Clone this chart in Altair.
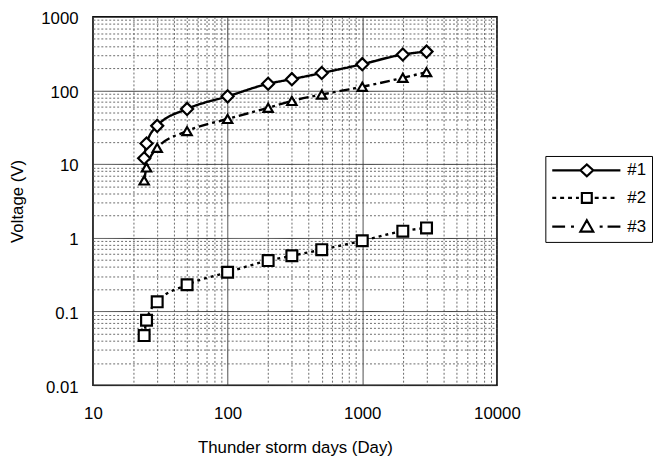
import altair as alt
import pandas as pd

# ---- data ----
days = [24, 25, 30, 50, 100, 200, 300, 500, 1000, 2000, 3000]
series_names = ["#1", "#2", "#3"]
v1 = [12, 19, 33, 56, 83, 123, 142, 172, 227, 307, 336]
v2 = [0.047, 0.076, 0.135, 0.23, 0.34, 0.49, 0.57, 0.69, 0.91, 1.23, 1.36]
v3 = [6.0, 9.0, 16.6, 28, 41, 58, 72, 88, 112, 148, 177]

# gridline positions (1..9 x each decade)
mult = [1, 2, 3, 4, 5, 6, 7, 8, 9]
x_decades = [10, 100, 1000]
y_decades = [0.01, 0.1, 1, 10, 100]
x_grid = [round(m * d, 6) for d in x_decades for m in mult] + [10000]
y_grid = [round(m * d, 6) for d in y_decades for m in mult] + [1000]

rows = []
for name, vals in zip(series_names, [v1, v2, v3]):
    for d, v in zip(days, vals):
        rows.append({"days": d, "voltage": v, "series": name})
df = pd.DataFrame(rows)

FONT = "Liberation Sans"
major = "abs(log(datum.value)/LN10 - round(log(datum.value)/LN10)) < 0.001"


def make_axis(title, values, **kw):
    return alt.Axis(
        title=title,
        values=values,
        grid=True,
        ticks=False,
        domain=False,
        gridColor={"condition": {"test": major, "value": "#3a3a3a"}, "value": "#6a6a6a"},
        gridDash={"condition": {"test": major, "value": [1, 0]}, "value": [2, 2]},
        gridWidth=1,
        labelExpr=f"({major}) ? format(datum.value, '~g') : ''",
        labelOverlap=False,
        labelFlush=False,
        labelFont=FONT,
        labelFontSize=17,
        labelColor="black",
        titleFont=FONT,
        titleFontSize=17,
        titleFontWeight="normal",
        titleColor="black",
        **kw,
    )


x_enc = alt.X(
    "days:Q",
    scale=alt.Scale(type="log", domain=[10, 10000], nice=False),
    axis=make_axis("Thunder storm days (Day)", x_grid, labelPadding=21, titlePadding=18),
)
y_enc = alt.Y(
    "voltage:Q",
    scale=alt.Scale(type="log", domain=[0.01, 1000], nice=False),
    axis=make_axis("Voltage (V)", y_grid, labelPadding=15, titlePadding=14, labelOffset=2),
)

base = alt.Chart(df)

lines = base.mark_line(color="black", strokeWidth=2.4, interpolate="monotone").encode(
    x=x_enc,
    y=y_enc,
    strokeDash=alt.StrokeDash(
        "series:N",
        scale=alt.Scale(domain=series_names, range=[[1, 0], [3, 4], [10, 4, 3, 4]]),
        legend=None,
    ),
)

points = base.mark_point(
    filled=True, fill="white", stroke="black", strokeWidth=2.2, opacity=1
).encode(
    x=x_enc,
    y=y_enc,
    shape=alt.Shape(
        "series:N",
        scale=alt.Scale(domain=series_names, range=["diamond", "square", "triangle-up"]),
        legend=None,
    ),
    size=alt.Size(
        "series:N",
        scale=alt.Scale(domain=series_names, range=[150, 90, 140]),
        legend=None,
    ),
)

# legend symbols: line sample + marker, as custom symbol paths
legend_paths = [
    "M-5 0L-0.929 0M-0.929 0L0 -0.857L0.929 0L0 0.857ZM0.929 0L4.857 0",
    "M-5 0L-4.429 0M-3.857 0L-3.286 0M-2.714 0L-2.143 0M-1.571 0L-1.143 0"
    "M-0.714 -0.714L0.714 -0.714L0.714 0.714L-0.714 0.714Z"
    "M1.143 0L1.714 0M2.286 0L2.857 0M3.429 0L4 0",
    "M-5 0L-3.143 0M-2.286 0L-1.857 0"
    "M0 -0.929L0.929 0.714L-0.929 0.714Z"
    "M1.857 0L2.286 0M3 0L4.857 0",
]

legend_layer = base.transform_filter("datum.days < 0").mark_point(
    filled=False, color="black", strokeWidth=2, opacity=1
).encode(
    x=x_enc,
    y=y_enc,
    shape=alt.Shape(
        "series:N",
        title=None,
        scale=alt.Scale(domain=series_names, range=legend_paths),
        legend=alt.Legend(
            orient="none",
            legendX=458,
            legendY=141,
            padding=6,
            rowPadding=8,
            symbolSize=196,
            symbolStrokeWidth=2.2,
            symbolStrokeColor="black",
            symbolOffset=27.5,
            labelOffset=32.5,
            labelFont=FONT,
            labelFontSize=17,
            labelColor="black",
            strokeColor="black",
            fillColor="white",
        ),
    ),
)

chart = (
    alt.layer(lines, points, legend_layer)
    .resolve_scale(shape="independent")
    .properties(
        width=409,
        height=373,
        autosize=alt.AutoSizeParams(type="none"),
        padding={"left": 86, "top": 6, "right": 158, "bottom": 75},
        background="white",
    )
    .configure_view(stroke="black", strokeWidth=1.5)
)

chart.save("out.html", embed_options={"renderer": "svg", "actions": False})
